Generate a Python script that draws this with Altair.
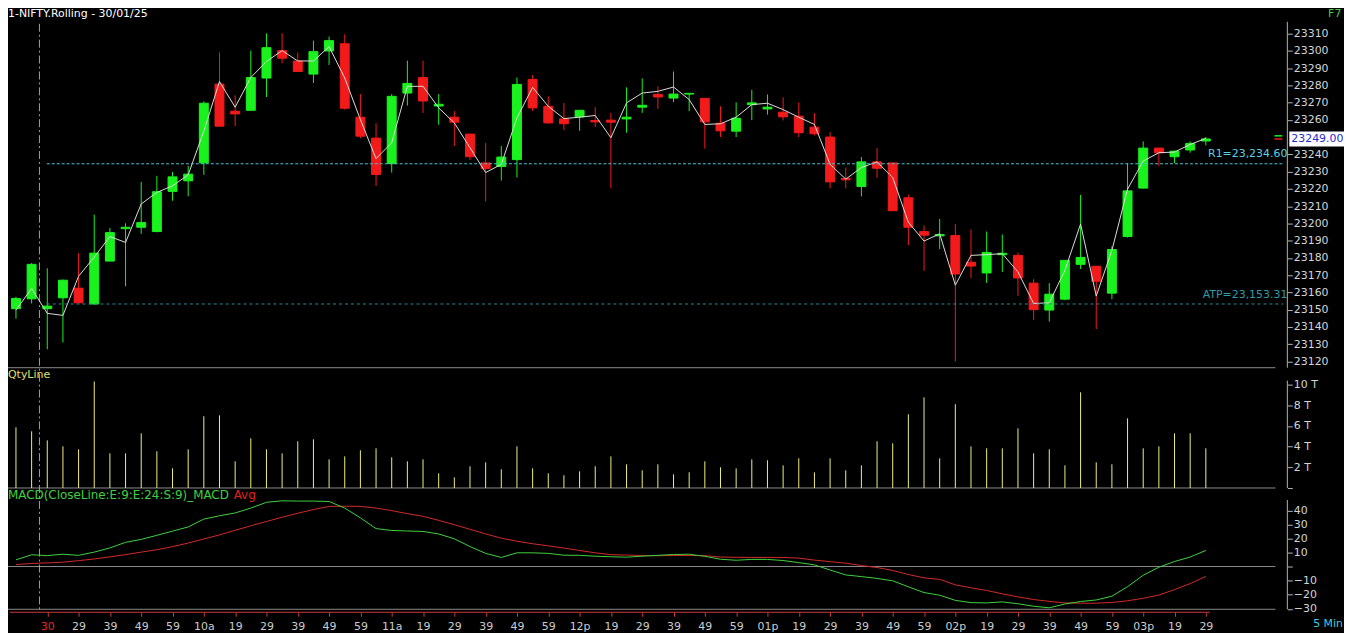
import json
import altair as alt
import pandas as pd

# ---------------- values ----------------
candle_index = list(range(77))
opens = [23150.6, 23156.3, 23150.6, 23156.9, 23162.5, 23153.3, 23178.2, 23197.0, 23197.8, 23195.3,
         23218.6, 23224.7, 23235.1, 23280.8, 23265.1, 23265.6, 23284.3, 23300.2, 23294.2, 23286.6,
         23300.0, 23304.2, 23261.6, 23249.5, 23234.7, 23275.6, 23284.6, 23268.1, 23261.6, 23251.8,
         23235.1, 23233.0, 23237.0, 23283.5, 23267.9, 23260.6, 23261.8, 23259.7, 23259.9, 23260.6,
         23267.4, 23274.8, 23272.7, 23275.0, 23272.5, 23258.1, 23253.5, 23268.9, 23266.4, 23264.5,
         23262.2, 23255.8, 23250.1, 23226.1, 23221.4, 23235.7, 23235.1, 23214.9, 23195.3, 23192.8,
         23193.0, 23177.5, 23171.3, 23181.9, 23181.5, 23165.4, 23149.8, 23156.1, 23176.3, 23175.2,
         23159.6, 23192.4, 23220.5, 23243.7, 23238.7, 23242.6, 23247.8]
highs = [23157.5, 23177.0, 23174.0, 23167.5, 23182.8, 23205.1, 23197.4, 23200.1, 23224.1, 23227.6,
         23229.9, 23233.4, 23270.8, 23299.1, 23274.3, 23300.2, 23310.2, 23310.2, 23299.1, 23306.0,
         23308.3, 23309.6, 23275.0, 23258.1, 23275.0, 23294.4, 23294.4, 23275.0, 23265.1, 23251.9,
         23246.6, 23244.9, 23284.6, 23286.0, 23273.7, 23269.9, 23265.8, 23267.4, 23264.1, 23278.9,
         23284.1, 23279.5, 23288.1, 23275.5, 23272.6, 23267.9, 23270.2, 23277.5, 23274.8, 23273.1,
         23270.2, 23263.9, 23253.0, 23232.4, 23238.5, 23243.7, 23235.2, 23216.6, 23198.8, 23202.6,
         23199.7, 23196.5, 23195.3, 23193.6, 23183.2, 23167.7, 23165.4, 23178.7, 23216.5, 23175.3,
         23186.7, 23234.9, 23247.6, 23243.8, 23242.3, 23247.6, 23250.1]
lows = [23144.8, 23153.6, 23127.1, 23131.0, 23153.8, 23153.0, 23178.0, 23163.6, 23194.0, 23194.9,
        23213.2, 23215.7, 23228.2, 23256.0, 23256.4, 23265.4, 23273.3, 23292.9, 23287.7, 23281.4,
        23291.9, 23266.0, 23249.3, 23221.8, 23229.5, 23268.3, 23264.1, 23257.2, 23244.9, 23236.8,
        23212.8, 23224.9, 23226.6, 23265.2, 23257.8, 23254.1, 23253.7, 23256.0, 23220.3, 23252.6,
        23264.1, 23266.4, 23270.4, 23265.1, 23243.3, 23250.1, 23250.1, 23259.9, 23263.1, 23259.7,
        23250.1, 23251.0, 23220.3, 23220.3, 23215.7, 23226.4, 23207.2, 23187.4, 23172.5, 23185.1,
        23120.0, 23168.4, 23165.5, 23171.9, 23158.1, 23144.0, 23143.1, 23155.5, 23173.6, 23138.8,
        23156.1, 23191.8, 23220.4, 23233.4, 23234.9, 23241.0, 23245.3]
closes = [23156.5, 23176.3, 23152.1, 23167.1, 23154.0, 23182.8, 23194.7, 23197.8, 23200.5, 23218.4,
          23227.0, 23228.6, 23269.7, 23256.4, 23263.5, 23284.6, 23301.9, 23295.8, 23288.1, 23299.6,
          23306.0, 23266.8, 23250.6, 23228.4, 23273.7, 23281.2, 23271.0, 23269.1, 23258.7, 23238.7,
          23231.8, 23238.5, 23280.6, 23267.0, 23258.3, 23257.8, 23265.6, 23258.9, 23258.7, 23261.6,
          23268.5, 23273.3, 23275.0, 23275.4, 23258.9, 23253.7, 23261.0, 23269.9, 23267.4, 23261.8,
          23252.6, 23252.0, 23224.1, 23225.3, 23235.7, 23232.0, 23207.4, 23197.8, 23193.2, 23193.6,
          23170.7, 23175.3, 23183.2, 23182.7, 23168.4, 23150.0, 23159.0, 23178.6, 23180.3, 23166.5,
          23184.9, 23218.9, 23243.7, 23241.0, 23241.9, 23246.4, 23249.0]
close_line = [23149.8, 23162.3, 23147.9, 23146.7, 23169.4, 23180.5, 23192.4, 23189.0, 23211.3, 23218.0,
              23221.8, 23228.2, 23253.5, 23282.3, 23267.4, 23284.6, 23293.9, 23300.2, 23294.2, 23294.2,
              23302.5, 23284.3, 23260.2, 23237.6, 23246.8, 23279.5, 23279.5, 23267.0, 23258.3, 23243.9,
              23229.5, 23234.3, 23261.2, 23278.9, 23267.9, 23260.8, 23261.6, 23262.6, 23249.7, 23269.9,
              23275.6, 23276.6, 23279.1, 23271.8, 23257.4, 23257.8, 23261.6, 23268.9, 23269.7, 23266.0,
              23261.6, 23257.4, 23234.3, 23225.7, 23232.4, 23235.7, 23226.6, 23200.7, 23189.8, 23194.0,
              23164.2, 23181.5, 23181.9, 23182.5, 23171.9, 23153.6, 23154.0, 23172.8, 23199.7, 23157.9,
              23184.4, 23219.9, 23236.2, 23241.0, 23241.4, 23245.8, 23249.3]
qty_thousands = [5.87, 5.48, 4.61, 4.03, 3.74, 10.3, 3.35, 3.35, 5.29, 3.55,
                 1.90, 3.74, 6.94, 7.03, 2.58, 4.81, 3.74, 3.35, 4.52, 4.71,
                 2.77, 3.06, 3.65, 3.84, 2.97, 2.58, 2.77, 1.42, 1.03, 2.10,
                 2.48, 1.81, 4.03, 1.90, 1.42, 1.23, 1.61, 2.10, 3.06, 2.29,
                 1.71, 2.29, 1.32, 1.52, 2.58, 2.00, 1.90, 2.77, 2.68, 2.19,
                 2.87, 1.52, 2.87, 1.71, 2.19, 4.52, 4.32, 7.13, 8.77, 2.87,
                 8.10, 4.03, 3.84, 3.84, 5.77, 3.35, 3.74, 2.19, 9.26, 2.48,
                 2.29, 6.74, 3.84, 4.03, 5.29, 5.29, 3.84]
macd_values = [5.0, 8.6, 8.0, 9.0, 8.2, 10.5, 13.5, 17.5, 19.6, 22.5,
               25.5, 28.5, 34.1, 36.5, 38.5, 42.0, 46.1, 47.2, 47.0, 47.0,
               46.7, 42.0, 35.0, 27.3, 26.0, 25.6, 25.3, 23.5, 20.0, 14.5,
               9.6, 6.7, 10.0, 10.0, 9.6, 8.3, 8.2, 7.6, 7.2, 6.9,
               7.6, 8.2, 8.8, 9.0, 7.5, 5.4, 4.7, 5.3, 5.3, 4.5,
               3.0, 1.4, -2.3, -5.8, -7.0, -8.3, -10.0, -14.3, -18.4, -20.3,
               -24.0, -25.6, -25.8, -25.1, -26.4, -28.2, -29.3, -26.6, -24.8, -23.7,
               -21.0, -14.2, -6.0, -0.3, 3.8, 7.0, 11.7]
macd_avg = [1.6, 2.4, 2.8, 3.3, 4.4, 5.6, 7.1, 8.7, 10.5, 12.2,
            14.4, 17.0, 19.9, 22.8, 26.1, 29.3, 32.4, 35.4, 38.3, 40.9,
            43.2, 43.3, 43.2, 42.0, 40.2, 38.0, 36.1, 33.2, 30.1, 26.8,
            23.5, 20.5, 18.3, 16.5, 15.0, 13.4, 11.7, 10.0, 8.7, 8.4,
            8.1, 7.9, 8.1, 8.1, 8.0, 7.0, 6.8, 6.7, 6.7, 6.7,
            6.2, 4.8, 3.7, 2.6, 0.9, -0.5, -2.6, -5.5, -7.9, -9.0,
            -12.9, -15.0, -16.9, -19.3, -21.5, -23.4, -24.7, -25.8, -26.0, -26.0,
            -25.5, -24.3, -22.5, -20.2, -16.3, -12.0, -6.9]
tick_positions = list(range(2, 77, 2))
tick_labels = ["30", "29", "39", "49", "59", "10a", "19", "29", "39", "49", "59", "11a",
               "19", "29", "39", "49", "59", "12p", "19", "29", "39", "49", "59", "01p",
               "19", "29", "39", "49", "59", "02p", "19", "29", "39", "49", "59", "03p",
               "19", "29"]
# 23250 is hidden behind the last-price box in the reference
price_ticks = [23120, 23130, 23140, 23150, 23160, 23170, 23180, 23190, 23200, 23210,
               23220, 23230, 23240, 23260, 23270, 23280, 23290, 23300, 23310]
qty_ticks = [0, 2, 4, 6, 8, 10]
macd_ticks = [-30, -20, -10, 0, 10, 20, 30, 40]
level_names = ["R1", "ATP"]
level_values = [23234.60, 23153.31]
day_break = [1.5]
marker_prices = [23250.8, 23249.0]

# ---------------- styling ----------------
FONT = "DejaVu Sans"
GREEN = "#1af21e"
RED = "#f21a1a"
GRID = "#8c8c8c"
W, H = 1287, 606

df = pd.DataFrame({
    "i": candle_index, "o": opens, "h": highs, "l": lows, "c": closes,
    "line": close_line, "qty": qty_thousands, "macd": macd_values, "avg": macd_avg,
})
df["dir"] = ["up" if c >= o else "down" for o, c in zip(opens, closes)]

x_scale = alt.Scale(domain=[-0.508, 81.206], nice=False, zero=False, padding=0)
price_scale = alt.Scale(domain=[23116.37, 23323.83], range=[360, 0], nice=False, zero=False)
vol_scale = alt.Scale(domain=[0, 11.54], range=[481, 361], nice=False, zero=False)
macd_scale = alt.Scale(domain=[-30, 40], range=[602.5, 504], nice=False, zero=False)
dir_scale = alt.Scale(domain=["up", "down"], range=[GREEN, RED])

x_axis = alt.Axis(
    orient="bottom", values=tick_positions,
    labelExpr=json.dumps(tick_labels) + "[(datum.value - 2) / 2]",
    domain=False, grid=False, title=None, tickSize=4, tickColor="#d03a3a",
    labelPadding=4, labelFont=FONT, labelFontSize=11, labelOverlap=False, labelFlush=False,
    labelColor={"condition": {"test": "datum.value == 2", "value": "#e02828"}, "value": "#cccccc"},
)
X = alt.X("i:Q", scale=x_scale, axis=x_axis)


def yaxis(values, **kw):
    return alt.Axis(orient="right", values=values, domain=False, grid=False, title=None,
                    tickSize=5, labelPadding=1, tickColor="#b4b4b4", labelColor="#d4d4d4",
                    labelFont=FONT, labelFontSize=11, labelOverlap=False, labelFlush=False, **kw)


price_axis = yaxis(price_ticks, format="d")
vol_axis = yaxis(qty_ticks, labelExpr="datum.value == 0 ? '' : datum.value + ' T'")
macd_axis = yaxis(macd_ticks, labelExpr="datum.value == 0 ? '' : datum.label")


def PY(field):
    return alt.Y(field, scale=price_scale, axis=price_axis)


def MY(field):
    return alt.Y(field, scale=macd_scale, axis=macd_axis)


one = pd.DataFrame({"k": [0]})


def hrule(y, x0, x1, color, **kw):
    return alt.Chart(one).mark_rule(color=color, strokeWidth=1, **kw).encode(
        x=alt.value(x0), x2=alt.value(x1), y=alt.value(y))


def vrule(x, y0, y1, color, **kw):
    return alt.Chart(one).mark_rule(color=color, strokeWidth=1, **kw).encode(
        x=alt.value(x), y=alt.value(y0), y2=alt.value(y1))


def label(text, x, y, color, size=11, align="left", baseline="middle"):
    return alt.Chart(pd.DataFrame({"t": [text]})).mark_text(
        align=align, baseline=baseline, color=color, fontSize=size, font=FONT
    ).encode(x=alt.value(x), y=alt.value(y), text="t:N")


# ---------------- price panel ----------------
base = alt.Chart(df)
wick = base.mark_rule(strokeWidth=1).encode(
    x=X, y=PY("l:Q"), y2="h:Q",
    color=alt.Color("dir:N", scale=dir_scale, legend=None))
body = base.mark_bar(size=9, strokeWidth=1).encode(
    x=X, y=PY("o:Q"), y2="c:Q",
    color=alt.Color("dir:N", scale=dir_scale, legend=None),
    stroke=alt.Stroke("dir:N", scale=dir_scale, legend=None))
cline = base.mark_line(color="#dcdcdc", strokeWidth=1).encode(x=X, y=PY("line:Q"))

lev = pd.DataFrame({"name": level_names, "price": level_values})
lev["txt"] = [f"{n}={v:,.2f}" for n, v in zip(level_names, level_values)]
lev_colors = {"R1": ("#4cc6d6", [3, 2], "#5ad0e2"), "ATP": ("#2c8c96", [3, 3], "#2f9ba8")}
level_layers = []
for n in level_names:
    lc, dash, tc = lev_colors[n]
    d = lev[lev["name"] == n]
    level_layers.append(alt.Chart(d).mark_rule(color=lc, strokeDash=dash, strokeWidth=1).encode(
        x=alt.value(39), x2=alt.value(1283), y=PY("price:Q")))
    level_layers.append(alt.Chart(d).mark_text(align="right", baseline="middle", dy=-9.5, color=tc,
                                               fontSize=11, font=FONT).encode(
        x=alt.value(1287), y=PY("price:Q"), text="txt:N"))

mk = pd.DataFrame({"p": marker_prices, "col": ["a", "b"]})
marker = alt.Chart(mk).mark_rule(strokeWidth=1.5).encode(
    x=alt.value(1274), x2=alt.value(1282), y=PY("p:Q"),
    color=alt.Color("col:N", scale=alt.Scale(domain=["a", "b"], range=["#e02020", "#ffffff"]), legend=None))

last = pd.DataFrame({"p": [closes[-1]], "t": [f"{closes[-1]:.2f}"]})
last_box = alt.Chart(last).mark_point(
    shape="M-1,-0.25L1,-0.25L1,0.25L-1,0.25Z", size=3600, filled=True, color="#ffffff",
    opacity=1, strokeWidth=0).encode(x=alt.value(1319), y=PY("p:Q"))
last_txt = alt.Chart(last).mark_text(align="left", baseline="middle", color="#2a2ad0", fontSize=11,
                                     font=FONT).encode(x=alt.value(1291), y=PY("p:Q"), text="t:N")

price_group = alt.layer(wick, body, cline, *level_layers, marker, last_box, last_txt)

# ---------------- volume panel ----------------
vol_group = alt.layer(
    base.mark_rule(color="#f0f07a", strokeWidth=1).encode(
        x=X, y=alt.Y("qty:Q", scale=vol_scale, axis=vol_axis), y2=alt.datum(0)))

# ---------------- MACD panel ----------------
macd_group = alt.layer(
    base.mark_line(color="#d42a2a", strokeWidth=1).encode(x=X, y=MY("avg:Q")),
    base.mark_line(color="#3ed23e", strokeWidth=1).encode(x=X, y=MY("macd:Q")),
)

# ---------------- frame / decorations ----------------
day_sep = alt.Chart(pd.DataFrame({"i": day_break})).mark_rule(
    color="#a0a0a0", strokeDash=[8, 3, 2, 3], strokeWidth=1).encode(
    x=X, y=alt.value(14), y2=alt.value(604))

frame = [
    hrule(360, 0, 1275, GRID),
    hrule(481, 0, 1275, GRID),
    hrule(560, 0, 1275, GRID),
    hrule(603, 0, 1275, GRID),
    hrule(606, 2, 1209, "#d03a3a"),
    vrule(1287, 12, 360, "#b4b4b4"),
    vrule(1287, 373, 481, "#b4b4b4"),
    vrule(1287, 493, 603, "#b4b4b4"),
]

texts = [
    label("1-NIFTY.Rolling - 30/01/25", 0, -2, "#ffffff", baseline="top"),
    label("F7", 1328, -2, "#3ed23e", baseline="top"),
    label("QtyLine", 0, 367, "#e0e060"),
    label("MACD(CloseLine:E:9:E:24:S:9)_MACD", 0, 488, "#3ed23e", size=12),
    label("Avg", 227, 488, "#e02020", size=12),
    label("5 Min", 1313, 618, "#3ccbdc"),
]

chart = alt.layer(*frame, day_sep, price_group, vol_group, macd_group, *texts).resolve_scale(
    y="independent"
).properties(
    width=W, height=H,
    autosize=alt.AutoSizeParams(type="none"),
    padding={"left": 0, "top": 0, "right": 57, "bottom": 19},
).configure(background="#000000", font=FONT).configure_view(strokeWidth=0)

chart.save("out.html", embed_options={"renderer": "svg", "actions": False})
